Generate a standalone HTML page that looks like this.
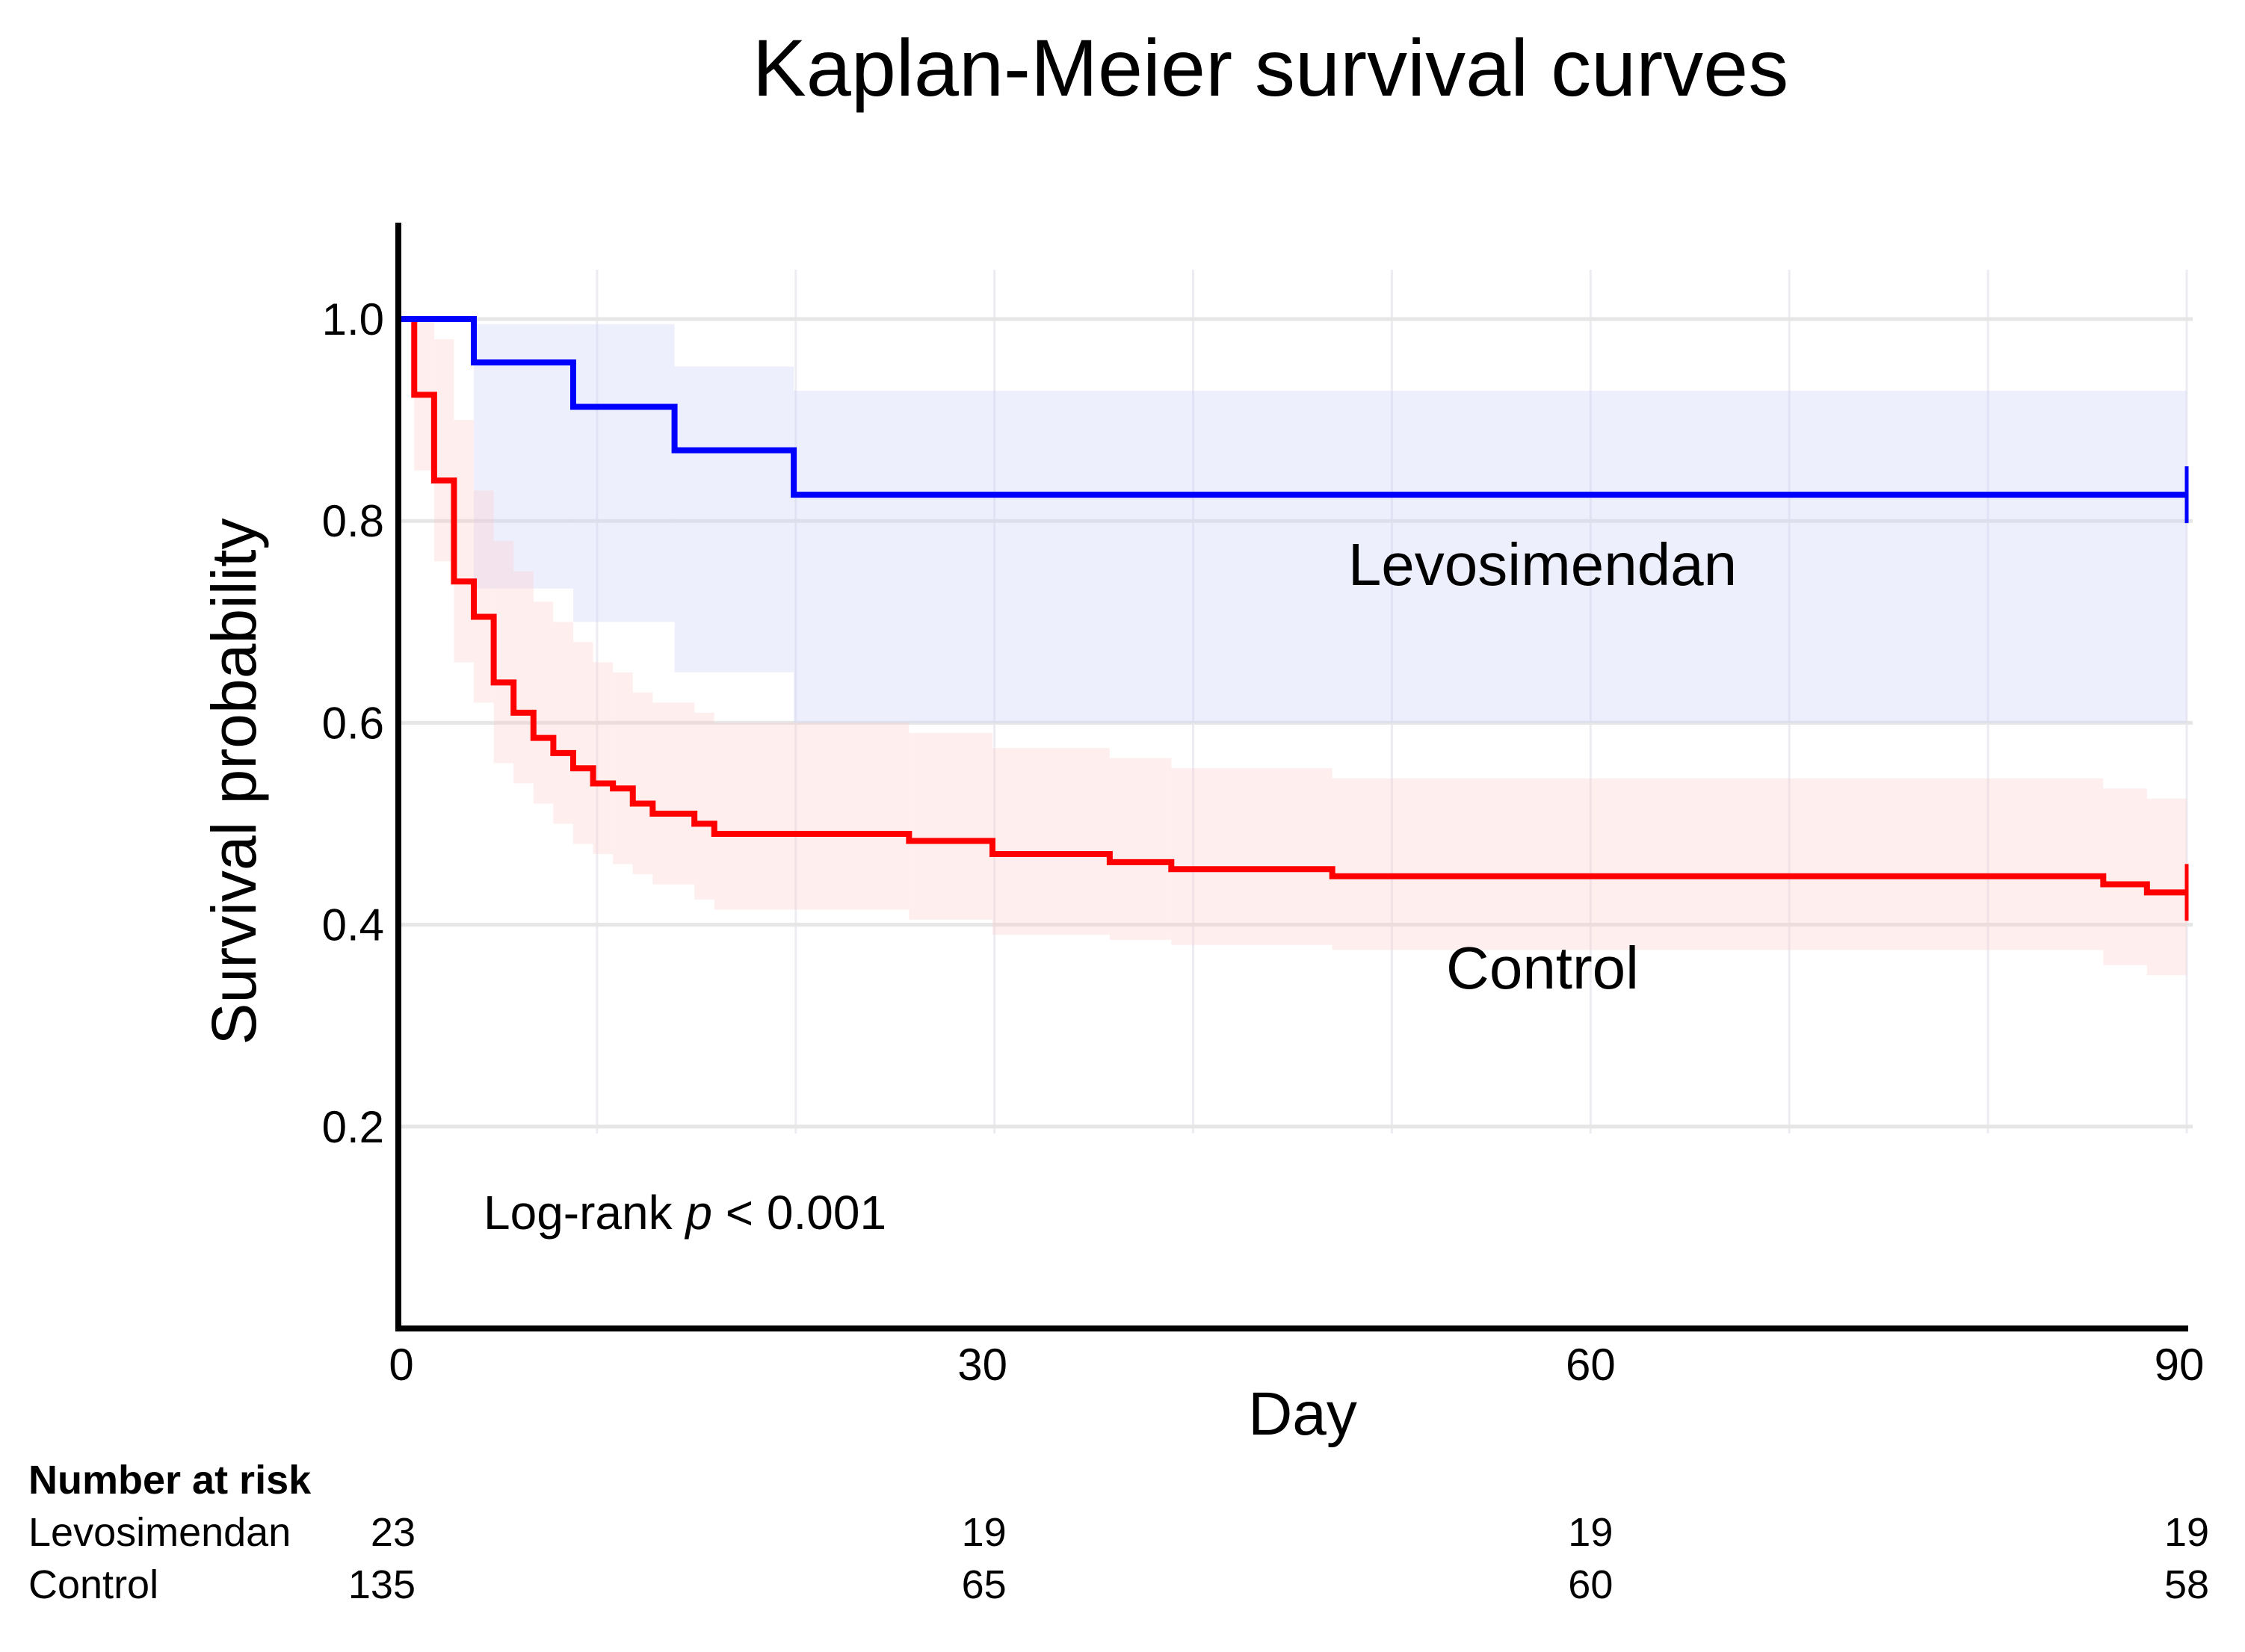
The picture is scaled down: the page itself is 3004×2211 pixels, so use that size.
<!DOCTYPE html>
<html><head><meta charset="utf-8"><style>html,body{margin:0;padding:0;background:#fff}svg{display:block}</style></head>
<body>
<svg id="chart" width="3004" height="2211" viewBox="0 0 3004 2211" xmlns="http://www.w3.org/2000/svg" font-family="Liberation Sans, Arial, sans-serif">
<g id="grid"></g>
<g id="bands"></g>
<g id="lines"></g>
<g id="axes"></g>
<text x="1700" y="128" font-size="108" text-anchor="middle">Kaplan-Meier survival curves</text>
<text transform="translate(342,1046) rotate(-90)" font-size="84" text-anchor="middle">Survival probability</text>
<text x="1743" y="1920" font-size="82" text-anchor="middle">Day</text>
<text x="2064" y="783" font-size="80" text-anchor="middle">Levosimendan</text>
<text x="2064" y="1323" font-size="80" text-anchor="middle">Control</text>
<text x="647" y="1645" font-size="64">Log-rank <tspan font-style="italic">p</tspan> &lt; 0.001</text>
<text x="38" y="1999" font-size="54" font-weight="bold">Number at risk</text>
<text x="38" y="2069" font-size="54">Levosimendan</text>
<text x="38" y="2139" font-size="54">Control</text>
<g id="risk"></g>
</svg>
<script>
const yTicks=[0.2,0.4,0.6,0.8,1.0];
const xTicks=[0,30,60,90];
const riskDays=[0,30,60,90];
const riskLevo=[23,19,19,19];
const riskCtrl=[135,65,60,58];
const levoT=[0,3.8,8.8,13.9,19.9];
const levoS=[1.0,0.957,0.913,0.870,0.826];
const levoU=[1.0,0.995,0.995,0.953,0.929];
const levoL=[1.0,0.733,0.700,0.650,0.600];
const ctrlT=[0,0.8,1.8,2.8,3.8,4.8,5.8,6.8,7.8,8.8,9.8,10.8,11.8,12.8,14.9,15.9,25.7,29.9,35.8,38.9,47,85.8,88];
const ctrlS=[1.0,0.925,0.84,0.74,0.705,0.64,0.61,0.585,0.57,0.555,0.54,0.535,0.52,0.51,0.50,0.49,0.483,0.470,0.462,0.455,0.448,0.44,0.432];
const ctrlU=[1.0,1.0,0.98,0.90,0.83,0.78,0.75,0.72,0.70,0.68,0.66,0.65,0.63,0.62,0.61,0.60,0.59,0.575,0.565,0.555,0.545,0.535,0.525];
const ctrlL=[1.0,0.85,0.76,0.66,0.62,0.56,0.54,0.52,0.50,0.48,0.47,0.46,0.45,0.44,0.425,0.415,0.405,0.39,0.385,0.38,0.375,0.36,0.35];
const X0=533,X1=2926,Y0=1778,YH=1351,TMAX=90;
const x=d=>X0+d*(X1-X0)/TMAX;
const y=v=>Y0-v*YH;
const NS='http://www.w3.org/2000/svg';
function mk(tag,parent,attrs){const e=document.createElementNS(NS,tag);for(const k in attrs)e.setAttribute(k,attrs[k]);parent.appendChild(e);return e;}
const grid=document.getElementById('grid');
for(let d=10;d<=90;d+=10){const l=mk('line',grid,{x1:x(d),x2:x(d),y1:361,y2:1517,stroke:'#ececf2','stroke-width':3});

}
yTicks.forEach(v=>{const l=mk('line',grid,{x1:X0,x2:2934,y1:y(v),y2:y(v),stroke:'#e6e6e6','stroke-width':5});

});
const bands=document.getElementById('bands');
function band(T,U,L,fill,name){for(let i=0;i<T.length;i++){const t1=i+1<T.length?T[i+1]:TMAX;const r=mk('rect',bands,{x:x(T[i]),y:y(U[i]),width:x(t1)-x(T[i]),height:y(L[i])-y(U[i]),fill:fill});

}}
band(levoT,levoU,levoL,'rgba(205,210,250,0.35)','levosimendan-ci-band');
band(ctrlT,ctrlU,ctrlL,'rgba(255,200,200,0.3)','control-ci-band');
const lines=document.getElementById('lines');
function step(T,S,color,name){let d='M'+x(T[0])+','+y(S[0]);for(let i=1;i<T.length;i++){d+=' H'+x(T[i])+' V'+y(S[i]);}d+=' H'+x(TMAX);
const p=mk('path',lines,{d:d,fill:'none',stroke:color,'stroke-width':8});


const c=mk('line',lines,{x1:x(TMAX),x2:x(TMAX),y1:y(S[S.length-1])-38,y2:y(S[S.length-1])+38,stroke:color,'stroke-width':5});

}
step(ctrlT,ctrlS,'#ff0000','control-curve');
step(levoT,levoS,'#0000ff','levosimendan-curve');
const axes=document.getElementById('axes');
const ya=mk('line',axes,{x1:X0,x2:X0,y1:298,y2:Y0+4,stroke:'#000','stroke-width':8});


const xa=mk('line',axes,{x1:X0-4,x2:2928,y1:Y0,y2:Y0,stroke:'#000','stroke-width':8});


yTicks.forEach(v=>{const t=mk('text',axes,{x:514,y:y(v)+21,'font-size':60,'text-anchor':'end'});t.textContent=v.toFixed(1);

});
xTicks.forEach(d=>{const t=mk('text',axes,{x:x(d)+(d===0?4:(d===90?-10:(d===30?-16:0))),y:1847,'font-size':60,'text-anchor':'middle'});t.textContent=d;

});
const risk=document.getElementById('risk');
riskDays.forEach((d,i)=>{const a=d===0?'end':'middle';const xx=d===0?556:x(d)+(d===30?-14:0);
const t1=mk('text',risk,{x:xx,y:2069,'font-size':54,'text-anchor':a});t1.textContent=riskLevo[i];


const t2=mk('text',risk,{x:xx,y:2139,'font-size':54,'text-anchor':a});t2.textContent=riskCtrl[i];

});
</script>
</body></html>
